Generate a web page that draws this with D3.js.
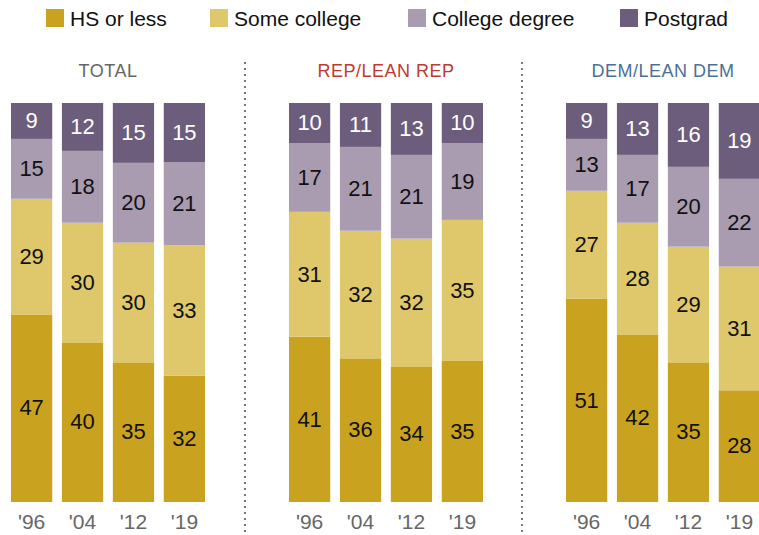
<!DOCTYPE html>
<html lang="en">
<head>
<meta charset="UTF-8">
<title>Education by party</title>
<script src="https://d3js.org/d3.v7.min.js"></script>
<style>
  body { margin: 0; background: #fff; }
  text { font-family: "Liberation Sans", Arial, sans-serif; }
</style>
</head>
<body>
<div id="chart"></div>
<script>
  // Data
  const years = ["'96", "'04", "'12", "'19"];
  const levels = ["HS or less", "Some college", "College degree", "Postgrad"];
  const groups = ["TOTAL", "REP/LEAN REP", "DEM/LEAN DEM"];

  const hsOrLess      = [[47, 40, 35, 32], [41, 36, 34, 35], [51, 42, 35, 28]];
  const someCollege   = [[29, 30, 30, 33], [31, 32, 32, 35], [27, 28, 29, 31]];
  const collegeDegree = [[15, 18, 20, 21], [17, 21, 21, 19], [13, 17, 20, 22]];
  const postgrad      = [[9, 12, 15, 15],  [10, 11, 13, 10], [9, 13, 16, 19]];

  const colors = ["#c9a31f", "#dfc86c", "#a99bb0", "#6c5d7c"];
  const labelColors = ["#111", "#111", "#111", "#fff"];
  const titleColors = ["#666666", "#bf3a2f", "#4b7196"];

  const width = 759, height = 535;
  const panelX = [11, 289, 566];   // left edge of each panel
  const panelW = 194;
  const yTop = 103, yBottom = 502;

  const svg = d3.select("#chart").append("svg")
    .attr("width", width)
    .attr("height", height);

  // Legend
  const legendX = [46, 210, 408, 620];
  const legend = svg.selectAll(".legend")
    .data(levels)
    .join("g")
    .attr("class", "legend")
    .attr("transform", (d, i) => `translate(${legendX[i]}, 9)`);
  legend.append("rect")
    .attr("width", 18).attr("height", 18)
    .attr("fill", (d, i) => colors[i]);
  legend.append("text")
    .attr("x", 24).attr("y", 17)
    .style("font-size", "21px")
    .style("fill", "#111")
    .text(d => d);

  const y = d3.scaleLinear().domain([0, 1]).range([yBottom, yTop]);

  const stack = d3.stack()
    .keys(d3.range(levels.length))
    .offset(d3.stackOffsetExpand);

  groups.forEach((g, gi) => {
    const rows = years.map((yr, i) => ({
      year: yr,
      0: hsOrLess[gi][i],
      1: someCollege[gi][i],
      2: collegeDegree[gi][i],
      3: postgrad[gi][i]
    }));
    const series = stack(rows);

    const x = d3.scaleBand()
      .domain(years)
      .range([panelX[gi], panelX[gi] + panelW])
      .paddingInner(0.19)
      .paddingOuter(0);

    const panel = svg.append("g").attr("class", "panel");

    panel.append("text")
      .attr("x", panelX[gi] + panelW / 2)
      .attr("y", 77)
      .attr("text-anchor", "middle")
      .style("font-size", "18px")
      .style("letter-spacing", "0.5px")
      .style("fill", titleColors[gi])
      .text(g);

    const layer = panel.selectAll(".layer")
      .data(series)
      .join("g")
      .attr("class", "layer");

    layer.selectAll("rect")
      .data(s => s.map(d => ({ s: s.key, d })))
      .join("rect")
      .attr("x", e => x(e.d.data.year))
      .attr("width", x.bandwidth())
      .attr("y", e => y(e.d[1]))
      .attr("height", e => y(e.d[0]) - y(e.d[1]))
      .attr("fill", e => colors[e.s]);

    layer.selectAll("text")
      .data(s => s.map(d => ({ s: s.key, d })))
      .join("text")
      .attr("x", e => x(e.d.data.year) + x.bandwidth() / 2)
      .attr("y", e => (y(e.d[0]) + y(e.d[1])) / 2)
      .attr("dy", "0.33em")
      .attr("text-anchor", "middle")
      .style("font-size", "22px")
      .style("fill", e => labelColors[e.s])
      .text(e => e.d.data[e.s]);

    // year labels
    panel.selectAll(".year")
      .data(years)
      .join("text")
      .attr("class", "year")
      .attr("x", d => x(d) + x.bandwidth() / 2)
      .attr("y", 529)
      .attr("text-anchor", "middle")
      .style("font-size", "21px")
      .style("fill", "#666")
      .text(d => d);
  });

  // dotted dividers
  svg.selectAll(".divider")
    .data([245, 522])
    .join("line")
    .attr("class", "divider")
    .attr("x1", d => d).attr("x2", d => d)
    .attr("y1", 62).attr("y2", 535)
    .attr("stroke", "#777")
    .attr("stroke-width", 2)
    .attr("stroke-dasharray", "2,4");
</script>
</body>
</html>
